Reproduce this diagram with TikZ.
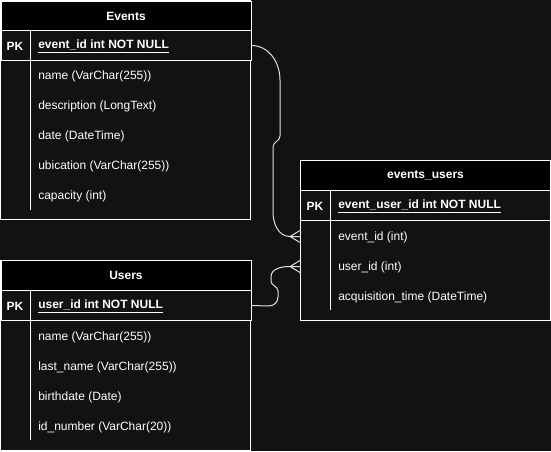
\documentclass[tikz,border=0pt]{standalone}
\usepackage{fontspec}
\setmainfont{Liberation Sans}
\usetikzlibrary{positioning}
\definecolor{canvas}{HTML}{121212}

\tikzset{
  box/.style={draw=white, line width=0.75pt},
  header/.style={box, fill=black, text=white, font=\fontsize{9}{11}\selectfont\bfseries,
    minimum width=187.5pt, minimum height=22.5pt, inner sep=0pt, anchor=north west},
  keyrow/.style={box, fill=canvas, minimum width=187.5pt, minimum height=22.5pt,
    inner sep=0pt, anchor=north west},
  field/.style={anchor=west, text=white, inner sep=0pt, yshift=-1.1pt,
    font=\fontsize{9}{11}\selectfont},
  keyfield/.style={field, font=\fontsize{9}{11}\selectfont\bfseries},
  pk/.style={keyfield, anchor=center},
  link/.style={draw=white!88!black, line width=0.75pt},
}

\begin{document}
\begin{tikzpicture}[x=0.75pt,y=-0.75pt]
  \fill[canvas] (0,0) rectangle (551,451);
  \useasboundingbox (0,0) rectangle (551,451);
  \def\crowfoot#1{\draw[link] ([xshift=-7.5pt]#1.west) -- ([yshift=4.5pt]#1.west)
    ([xshift=-7.5pt]#1.west) -- (#1.west)
    ([xshift=-7.5pt]#1.west) -- ([yshift=-4.5pt]#1.west);}

  % Events
  \draw[box, fill=canvas] (0.5,0.5) rectangle (250,219);
  \node[header] (events) at (0.5,0.5) {Events};
  \node[keyrow] (eventsKey) at (0.5,30) {};
  \draw[box] (30,30) -- (30,210);
  \node[pk] (eventsPK) at (15,45) {PK};
  \node[keyfield] (eventsId) at (38,45) {\underline{event\_id int NOT NULL}};
  \node[field] (eventsName) at (38,75) {name (VarChar(255))};
  \node[field] (eventsDesc) at (38,105) {description (LongText)};
  \node[field] (eventsDate) at (38,135) {date (DateTime)};
  \node[field] (eventsUbic) at (38,165) {ubication (VarChar(255))};
  \node[field] (eventsCap) at (38,195) {capacity (int)};

  % events_users
  \draw[box, fill=canvas] (300,160) rectangle (550,320);
  \node[header] (eu) at (300,160) {events\_users};
  \node[keyrow] (euKey) at (300,190) {};
  \draw[box] (330,190) -- (330,310);
  \node[pk] (euPK) at (315,205) {PK};
  \node[keyfield] (euId) at (338,205) {\underline{event\_user\_id int NOT NULL}};
  \node[keyrow, draw=none, fill=none] (euEventRow) at (300,221) {};
  \node[keyrow, draw=none, fill=none] (euUserRow) at (300,251) {};
  \node[field] (euEvent) at (338,236) {event\_id (int)};
  \node[field] (euUser) at (338,266) {user\_id (int)};
  \node[field] (euTime) at (338,296) {acquisition\_time (DateTime)};

  % Users
  \draw[box, fill=canvas] (0.5,260) rectangle (250,450);
  \node[header] (users) at (0.5,260) {Users};
  \node[keyrow] (usersKey) at (0.5,290) {};
  \draw[box] (30,290) -- (30,440);
  \node[pk] (usersPK) at (15,305) {PK};
  \node[keyfield] (usersId) at (38,305) {\underline{user\_id int NOT NULL}};
  \node[field] (usersName) at (38,336) {name (VarChar(255))};
  \node[field] (usersLast) at (38,366) {last\_name (VarChar(255))};
  \node[field] (usersBirth) at (38,396) {birthdate (Date)};
  \node[field] (usersNum) at (38,426) {id\_number (VarChar(20))};

  % relations
  \draw[link] (eventsKey.east) to[out=0,in=90] (280,80) -- (280,136)
    to[out=-90,in=90] (273,147) -- (273,212)
    to[out=-90,in=180] ([xshift=-7.5pt]euEventRow.west);
  \crowfoot{euEventRow}
  \draw[link] (usersKey.east) -- (269,306) to[out=0,in=-90] (278,297) -- (278,291)
    to[out=90,in=-90] (271,281) -- (271,277)
    to[out=90,in=180] ([xshift=-7.5pt]euUserRow.west);
  \crowfoot{euUserRow}
\end{tikzpicture}
\end{document}
